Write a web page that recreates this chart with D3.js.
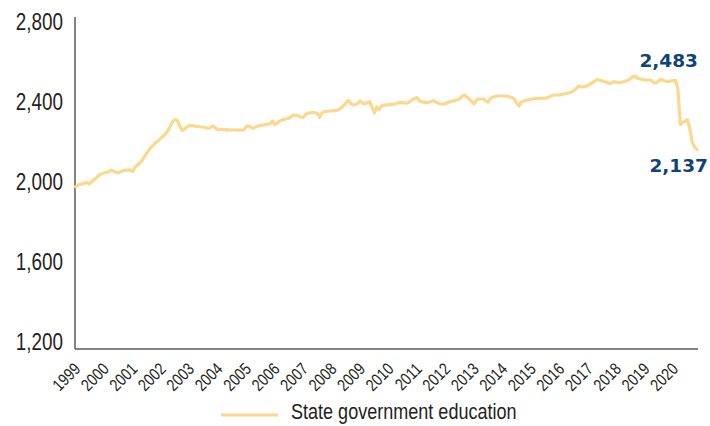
<!DOCTYPE html>
<html>
<head>
<meta charset="utf-8">
<script src="https://cdn.jsdelivr.net/npm/d3@7"></script>
<style>
  html, body { margin: 0; padding: 0; background: #ffffff; }
  svg { display: block; }
  .narrow { font-family: "Liberation Sans", Arial, sans-serif; }
</style>
</head>
<body>
<svg id="chart" width="710" height="426"></svg>
<script>
// ---------- DATA ----------
const seriesName = "State government education";
const startYear = 1999;          // first month: January 1999
const yTicks = [1200, 1600, 2000, 2400, 2800];
const yearLabels = ["1999","2000","2001","2002","2003","2004","2005","2006","2007","2008","2009",
  "2010","2011","2012","2013","2014","2015","2016","2017","2018","2019","2020"];
// monthly values (thousands), Jan 1999 – Nov 2020
const v1999 = [1952,1958,1963,1966,1970,1972,1965,1978,1988,1998,2010,2016];
const v2000 = [2020,2023,2026,2034,2030,2023,2020,2026,2031,2035,2034,2036];
const v2001 = [2028,2048,2058,2070,2080,2100,2118,2135,2150,2162,2175,2182];
const v2002 = [2195,2205,2215,2232,2255,2278,2288,2282,2255,2233,2240,2250];
const v2003 = [2258,2257,2255,2253,2252,2250,2250,2246,2243,2248,2255,2245];
const v2004 = [2237,2238,2238,2236,2237,2235,2236,2235,2236,2234,2235,2236];
const v2005 = [2252,2255,2248,2243,2250,2255,2258,2260,2262,2264,2266,2280];
const v2006 = [2262,2270,2278,2285,2288,2291,2294,2302,2310,2308,2305,2300];
const v2007 = [2298,2314,2318,2321,2322,2322,2318,2298,2322,2327,2328,2330];
const v2008 = [2331,2332,2333,2338,2345,2355,2370,2383,2368,2360,2362,2368];
const v2009 = [2380,2370,2365,2372,2377,2350,2320,2350,2338,2355,2358,2360];
const v2010 = [2362,2363,2362,2366,2370,2373,2372,2369,2370,2378,2386,2393];
const v2011 = [2397,2380,2376,2374,2372,2373,2378,2382,2375,2368,2365,2365];
const v2012 = [2368,2373,2377,2380,2383,2386,2390,2405,2410,2400,2390,2378];
const v2013 = [2366,2385,2390,2390,2390,2380,2375,2393,2400,2403,2405,2405];
const v2014 = [2405,2405,2404,2400,2398,2390,2370,2355,2375,2380,2383,2386];
const v2015 = [2388,2392,2392,2393,2393,2393,2394,2396,2402,2408,2410,2410];
const v2016 = [2410,2413,2416,2418,2420,2425,2430,2440,2455,2452,2450,2453];
const v2017 = [2458,2465,2472,2480,2488,2484,2480,2476,2474,2467,2470,2477];
const v2018 = [2474,2472,2473,2476,2480,2484,2492,2502,2504,2494,2490,2488];
const v2019 = [2486,2485,2485,2482,2470,2472,2482,2487,2482,2478,2478,2480];
const v2020 = [2482,2483,2440,2262,2274,2279,2287,2240,2172,2150,2137];
const annotations = [{label: "2,483", date: [2020, 1]}, {label: "2,137", date: [2020, 10]}];

const values = [].concat(v1999,v2000,v2001,v2002,v2003,v2004,v2005,v2006,v2007,v2008,v2009,
  v2010,v2011,v2012,v2013,v2014,v2015,v2016,v2017,v2018,v2019,v2020);
const data = values.map((v, i) => ({date: new Date(startYear, i, 1), value: v}));

// ---------- LAYOUT ----------
const svg = d3.select("#chart");
const lineColor = "#fcd88d";
const axisColor = "#5a5a5a";
const textColor = "#231f20";
const labelBlue = "#0e4479";
const squeeze = 0.82;   // condensed look

const x = d3.scaleTime()
  .domain([data[0].date, data[data.length - 1].date])
  .range([75.5, 697]);
const y = d3.scaleLinear().domain([1200, 2800]).range([337, 17]);
const axisY = 349;

// y axis line
svg.append("line")
  .attr("x1", 75).attr("x2", 75).attr("y1", 17).attr("y2", axisY)
  .attr("stroke", axisColor).attr("stroke-width", 1.5);
// x axis line
svg.append("line")
  .attr("x1", 75).attr("x2", 698).attr("y1", axisY).attr("y2", axisY)
  .attr("stroke", axisColor).attr("stroke-width", 1.5);

// y tick labels
svg.append("g").selectAll("text").data(yTicks).join("text")
  .attr("class", "narrow")
  .attr("transform", d => `translate(63,${y(d) + 5}) scale(${squeeze},1)`)
  .attr("dy", "0.35em")
  .attr("text-anchor", "end")
  .attr("font-size", 23)
  .attr("fill", textColor)
  .text(d => d3.format(",")(d));

// x tick labels (rotated)
svg.append("g").selectAll("text").data(yearLabels).join("text")
  .attr("class", "narrow")
  .attr("text-anchor", "end")
  .attr("font-size", 17)
  .attr("fill", textColor)
  .attr("transform", d => `translate(${x(new Date(+d, 0, 1)) + 6},370) rotate(-45) scale(${squeeze},1)`)
  .text(d => d);

// line
const line = d3.line().x(d => x(d.date)).y(d => y(d.value));
svg.append("path")
  .datum(data)
  .attr("fill", "none")
  .attr("stroke", lineColor)
  .attr("stroke-width", 3.2)
  .attr("stroke-linejoin", "round")
  .attr("stroke-linecap", "round")
  .attr("d", line);

// annotations
const a0 = annotations[0], a1 = annotations[1];
const d0 = new Date(a0.date[0], a0.date[1], 1);
const d1 = new Date(a1.date[0], a1.date[1], 1);
const val0 = data.find(d => +d.date === +d0).value;
const val1 = data.find(d => +d.date === +d1).value;
svg.append("text")
  .attr("x", x(d0) - 7).attr("y", y(val0) - 13)
  .attr("text-anchor", "middle")
  .attr("font-family", "DejaVu Sans, sans-serif").attr("font-weight", "bold")
  .attr("font-size", 18.5).attr("fill", labelBlue)
  .text(a0.label);
svg.append("text")
  .attr("x", 708).attr("y", y(val1) + 22)
  .attr("text-anchor", "end")
  .attr("font-family", "DejaVu Sans, sans-serif").attr("font-weight", "bold")
  .attr("font-size", 18.5).attr("fill", labelBlue)
  .text(a1.label);

// legend
const lg = svg.append("g");
lg.append("line")
  .attr("x1", 221).attr("x2", 278).attr("y1", 415).attr("y2", 415)
  .attr("stroke", lineColor).attr("stroke-width", 3);
lg.append("text")
  .attr("class", "narrow")
  .attr("transform", `translate(291,418.5) scale(${squeeze},1)`)
  .attr("font-size", 22)
  .attr("fill", textColor)
  .text(seriesName);
</script>
</body>
</html>
